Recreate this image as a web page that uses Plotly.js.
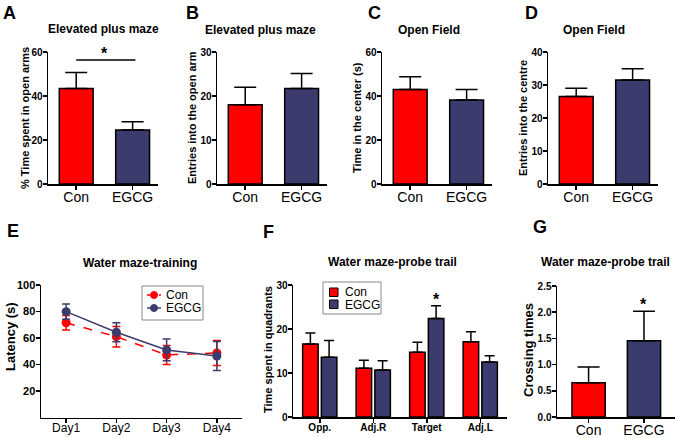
<!DOCTYPE html>
<html><head><meta charset="utf-8">
<script src="https://cdn.plot.ly/plotly-3.0.1.min.js"></script>
<style>body{margin:0;padding:0;background:#fff}#chart{width:675px;height:438px}</style>
</head><body><div id="chart"></div>
<script>
// ---------- data ----------
const groups = ["Con", "EGCG"];
// A: Elevated plus maze, % time in open arms
const aMean = [43.4, 24.6];
const aErr  = [7.3, 3.7];
// B: Elevated plus maze, entries into open arm
const bMean = [18.0, 21.7];
const bErr  = [4.0, 3.4];
// C: Open field, time in centre
const cMean = [42.9, 38.2];
const cErr  = [5.8, 4.7];
// D: Open field, entries into centre
const dMean = [26.5, 31.5];
const dErr  = [2.5, 3.4];
// E: Water maze training latency
const days = ["Day1", "Day2", "Day3", "Day4"];
const eCon = [71.5, 61.0, 47.2, 48.7];
const eConErr = [5.5, 7.7, 7.2, 9.5];
const eEgcg = [79.9, 64.3, 51.0, 46.4];
const eEgcgErr = [5.7, 7.2, 8.2, 11.0];
// F: probe trial, time in quadrants
const quadrants = ["Opp.", "Adj.R", "Target", "Adj.L"];
const fCon = [16.6, 11.1, 14.7, 17.1];
const fConErr = [2.5, 1.8, 2.3, 2.3];
const fEgcg = [13.6, 10.7, 22.4, 12.5];
const fEgcgErr = [3.8, 2.1, 2.9, 1.4];
// G: probe trial, crossing times
const gMean = [0.655, 1.457];
const gErr  = [0.30, 0.56];
const seriesNames = ["Con", "EGCG"];

const RED = "#ff0000", NAVY = "#3b3b6d";
const W = 675, H = 438;
const px = v => v / W, py = v => 1 - v / H;
const FONT = "Liberation Sans, Arial, sans-serif";

function barTrace(means, errs, xa, ya) {
  return {
    type: "bar", x: groups, y: means, xaxis: xa, yaxis: ya, width: 0.6,
    marker: {color: [RED, NAVY], line: {color: "#000", width: 1.5}},
    error_y: {type: "data", symmetric: false, array: errs, arrayminus: [0, 0],
              color: "#000", thickness: 1.5, width: 11},
    showlegend: false, hoverinfo: "skip"
  };
}

const data = [
  barTrace(aMean, aErr, "x", "y"),
  barTrace(bMean, bErr, "x2", "y2"),
  barTrace(cMean, cErr, "x3", "y3"),
  barTrace(dMean, dErr, "x4", "y4"),
  {type: "scatter", mode: "lines+markers", name: seriesNames[0], x: days, y: eCon, xaxis: "x5", yaxis: "y5",
   line: {color: RED, width: 1.5, dash: "dash"}, marker: {color: RED, size: 9, symbol: "circle"},
   error_y: {type: "data", array: eConErr, color: RED, thickness: 1.5, width: 4}, showlegend: false},
  {type: "scatter", mode: "lines+markers", name: seriesNames[1], x: days, y: eEgcg, xaxis: "x5", yaxis: "y5",
   line: {color: NAVY, width: 1.5}, marker: {color: NAVY, size: 9, symbol: "circle"},
   error_y: {type: "data", array: eEgcgErr, color: NAVY, thickness: 1.5, width: 4}, showlegend: false},
  {type: "bar", name: seriesNames[0], x: quadrants, y: fCon, xaxis: "x6", yaxis: "y6", width: 0.29, offset: -0.32,
   marker: {color: RED, line: {color: "#000", width: 1.5}},
   error_y: {type: "data", symmetric: false, array: fConErr, arrayminus: [0,0,0,0], color: "#000", thickness: 1.5, width: 5},
   showlegend: false, hoverinfo: "skip"},
  {type: "bar", name: seriesNames[1], x: quadrants, y: fEgcg, xaxis: "x6", yaxis: "y6", width: 0.29, offset: 0.03,
   marker: {color: NAVY, line: {color: "#000", width: 1.5}},
   error_y: {type: "data", symmetric: false, array: fEgcgErr, arrayminus: [0,0,0,0], color: "#000", thickness: 1.5, width: 5},
   showlegend: false, hoverinfo: "skip"},
  barTrace(gMean, gErr, "x7", "y7")
];

function xax(x0, x1, range, anchor, tickfont, standoff) {
  return {domain: [px(x0), px(x1)], anchor: anchor, type: "category", range: range,
          showline: true, linecolor: "#000", linewidth: 1.5, ticks: "outside", ticklen: 4,
          tickwidth: 1.5, tickcolor: "#000", showgrid: false, zeroline: false,
          ticklabelstandoff: standoff, tickfont: tickfont, fixedrange: true};
}
function yax(yBottom, yTop, range, anchor, extra) {
  return Object.assign({domain: [py(yBottom), py(yTop)], anchor: anchor, range: range,
          showline: true, linecolor: "#000", linewidth: 1.5, ticks: "outside", ticklen: 4,
          tickwidth: 1.5, tickcolor: "#000", showgrid: false, zeroline: false, ticklabelstandoff: -2,
          tickfont: {family: FONT, size: 10, color: "#000", weight: "bold"}, fixedrange: true}, extra || {});
}
const catFont = {family: FONT, size: 14, color: "#000"};

const layout = {
  width: W, height: H, margin: {l: 0, r: 0, t: 0, b: 0},
  paper_bgcolor: "#fff", plot_bgcolor: "rgba(0,0,0,0)",
  font: {family: FONT, color: "#000"},
  barmode: "group", showlegend: false,
  xaxis:  xax(48, 158, [-0.5, 1.45], "y", catFont, -4),
  yaxis:  yax(184, 52, [0, 60], "x", {dtick: 20}),
  xaxis2: xax(217, 327, [-0.5, 1.45], "y2", catFont, -4),
  yaxis2: yax(184, 52, [0, 30], "x2", {dtick: 10}),
  xaxis3: xax(382, 492, [-0.5, 1.45], "y3", catFont, -4),
  yaxis3: yax(184, 52, [0, 60], "x3", {dtick: 20}),
  xaxis4: xax(548, 658, [-0.5, 1.45], "y4", catFont, -4),
  yaxis4: yax(184, 52, [0, 40], "x4", {dtick: 10}),
  xaxis5: xax(41, 242, [-0.5, 3.5], "y5", {family: FONT, size: 12, color: "#000"}, -5),
  yaxis5: yax(417.5, 285, [0, 100], "x5", {tickvals: [20, 40, 60, 80, 100],
          tickfont: {family: FONT, size: 11, color: "#000", weight: "bold"}}),
  xaxis6: xax(293, 507, [-0.5, 3.5], "y6", {family: FONT, size: 10, color: "#000", weight: "bold"}, -4),
  yaxis6: yax(417, 285, [0, 30], "x6", {dtick: 10}),
  xaxis7: xax(557, 675, [-0.57, 1.56], "y7", catFont, -4),
  yaxis7: yax(417, 286, [0, 2.5], "x7", {dtick: 0.5, tickformat: ".1f"}),
  shapes: [
    {type: "line", xref: "x", yref: "y", x0: 0, x1: 1.05, y0: 56.4, y1: 56.4, line: {color: "#000", width: 1.5}},
    // legend E box and samples
    {type: "rect", xref: "paper", yref: "paper", x0: px(142), x1: px(203), y0: py(286), y1: py(320),
     line: {color: "#888", width: 1}, fillcolor: "#fff"},
    {type: "line", xref: "paper", yref: "paper", x0: px(147), x1: px(161), y0: py(295), y1: py(295),
     line: {color: RED, width: 1.5, dash: "dot"}},
    {type: "circle", xref: "paper", yref: "paper", x0: px(150.5), x1: px(157.5), y0: py(291.5), y1: py(298.5),
     line: {color: RED, width: 1}, fillcolor: RED},
    {type: "line", xref: "paper", yref: "paper", x0: px(147), x1: px(161), y0: py(308), y1: py(308),
     line: {color: NAVY, width: 1.5}},
    {type: "circle", xref: "paper", yref: "paper", x0: px(150.5), x1: px(157.5), y0: py(304.5), y1: py(311.5),
     line: {color: NAVY, width: 1}, fillcolor: NAVY},
    // legend F box and samples
    {type: "rect", xref: "paper", yref: "paper", x0: px(323), x1: px(381), y0: py(282), y1: py(314),
     line: {color: "#888", width: 1}, fillcolor: "#fff"},
    {type: "rect", xref: "paper", yref: "paper", x0: px(329.5), x1: px(338), y0: py(288), y1: py(296.5),
     line: {color: "#000", width: 1}, fillcolor: RED},
    {type: "rect", xref: "paper", yref: "paper", x0: px(329.5), x1: px(338), y0: py(300), y1: py(308.5),
     line: {color: "#000", width: 1}, fillcolor: NAVY}
  ],
  annotations: []
};

function ann(text, x, y, size, opts) {
  layout.annotations.push(Object.assign({text: text, xref: "paper", yref: "paper",
    x: px(x), y: py(y), xanchor: "center", yanchor: "middle", showarrow: false,
    font: {family: FONT, size: size, color: "#000", weight: "bold"}}, opts || {}));
}
// panel letters
ann("A", 9, 13, 18); ann("B", 192, 13, 18); ann("C", 374, 13, 18); ann("D", 531, 13, 18);
ann("E", 13, 231, 18); ann("F", 268, 232, 18); ann("G", 540, 227, 18);
// panel titles
ann("Elevated plus maze", 103, 29, 12); ann("Elevated plus maze", 260, 30, 12);
ann("Open Field", 429, 30, 12); ann("Open Field", 594, 30, 12);
ann("Water maze-training", 140, 263, 12); ann("Water maze-probe trail", 392, 262, 12);
ann("Water maze-probe trail", 605, 262, 12);
// y titles
ann("% Time spent in open arms", 25, 118, 11, {textangle: -90});
ann("Entries into the open arm", 192, 118, 11, {textangle: -90});
ann("Time in the center (s)", 357, 118, 11, {textangle: -90});
ann("Entries into the centre", 523, 118, 11, {textangle: -90});
ann("Latency (s)", 10, 337, 13, {textangle: -90});
ann("Time spent in quadrants", 268, 350, 11, {textangle: -90});
ann("Crossing times", 528, 350, 13, {textangle: -90});
// legend texts
const legFont = {family: FONT, size: 12, color: "#000"};
ann(seriesNames[0], 164, 295, 12, {xanchor: "left", font: legFont});
ann(seriesNames[1], 164, 308, 12, {xanchor: "left", font: legFont});
ann(seriesNames[0], 343, 292, 12, {xanchor: "left", font: legFont});
ann(seriesNames[1], 343, 304.5, 12, {xanchor: "left", font: legFont});
// significance stars
layout.annotations.push({text: "*", xref: "x", yref: "y", x: 0.5, y: 56.4, yanchor: "bottom",
  showarrow: false, font: {family: FONT, size: 16, color: "#000", weight: "bold"}, yshift: -4});
layout.annotations.push({text: "*", xref: "x6", yref: "y6", x: 2.175, y: 25.3, yanchor: "bottom",
  showarrow: false, font: {family: FONT, size: 16, color: "#000", weight: "bold"}, yshift: -4});
layout.annotations.push({text: "*", xref: "x7", yref: "y7", x: 1, y: 2.02, yanchor: "bottom",
  showarrow: false, font: {family: FONT, size: 16, color: "#000", weight: "bold"}, yshift: -4});

Plotly.newPlot("chart", data, layout, {staticPlot: true, displayModeBar: false});
</script></body></html>
